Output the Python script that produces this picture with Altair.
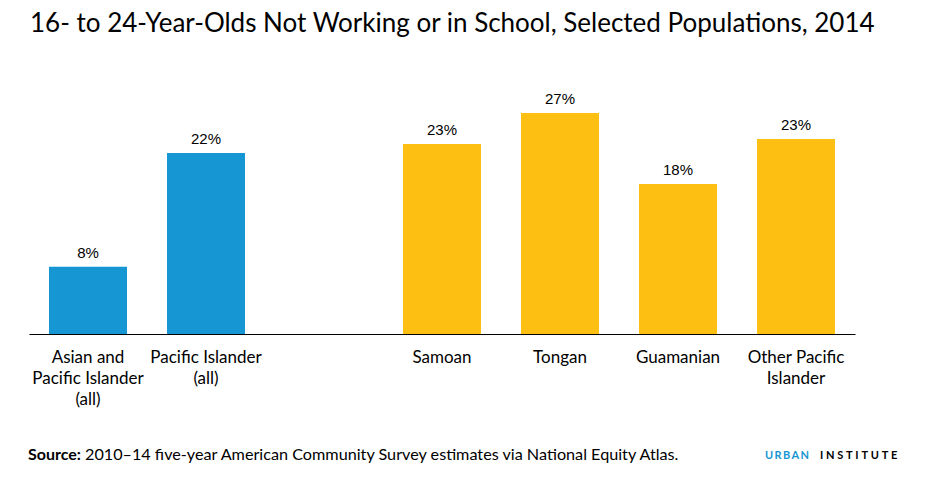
import altair as alt
import pandas as pd

# ---- data ----
categories = ["Asian and|Pacific Islander|(all)", "Pacific Islander|(all)",
              "Samoan", "Tongan", "Guamanian", "Other Pacific|Islander"]
values = [8.08, 21.72, 22.8, 26.52, 18.0, 23.4]
value_labels = ["8%", "22%", "23%", "27%", "18%", "23%"]
groups = ["all", "all", "sub", "sub", "sub", "sub"]
x_domain = categories[:2] + [" "] + categories[2:]

title_text = "16- to 24-Year-Olds Not Working or in School, Selected Populations,  2014"
source_bold = "Source:"
source_rest = "2010\u201314 five-year American Community Survey estimates via National Equity Atlas."
logo_a = "\u2009".join("URBAN")
logo_b = "\u2009\u200a\u200a".join("INSTITUTE")

BLUE = "#1696d2"
YELLOW = "#fdbf11"

df = pd.DataFrame({"cat": categories, "val": values, "lab": value_labels, "grp": groups})

W, H = 826, 250

x = alt.X("cat:N",
          scale=alt.Scale(domain=x_domain, paddingInner=0.339, paddingOuter=0.1695),
          axis=alt.Axis(title=None, labelExpr="split(datum.value, '|')", labelAngle=0,
                        labelFont="Lato", labelFontSize=17, labelColor="#000",
                        labelLineHeight=21, labelPadding=15, ticks=False,
                        domainColor="#000", domainWidth=1, labelBaseline="top",
                        labelLimit=300))
y = alt.Y("val:Q", scale=alt.Scale(domain=[0, 30]), axis=None)

bars = alt.Chart(df).mark_bar().encode(
    x=x, y=y,
    color=alt.Color("grp:N", scale=alt.Scale(domain=["all", "sub"], range=[BLUE, YELLOW]), legend=None),
)

labels = alt.Chart(df).mark_text(font="Liberation Sans", fontSize=15, baseline="alphabetic",
                                 dy=-9, color="#000").encode(x=x, y=y, text="lab:N")

def note(txt, xpos, ypos, **kw):
    return alt.Chart(pd.DataFrame({"t": [txt]})).mark_text(
        align="left", baseline="alphabetic", **kw
    ).encode(x=alt.value(xpos), y=alt.value(ypos), text="t:N")

ttl = note(title_text, 1, -52, font="Lato", fontSize=26, color="#000")
src1 = note(source_bold, -1, 376, font="Lato", fontSize=16, fontWeight="bold", color="#000")
src2 = note(source_rest, 56, 376, font="Lato", fontSize=16.2, color="#000")
logo1 = note(logo_a, 736, 375, font="Lato", fontSize=11, fontWeight="bold", color=BLUE)
logo2 = note(logo_b, 791, 375, font="Lato", fontSize=11, fontWeight="bold", color="#000")

chart = alt.layer(bars, labels, ttl, src1, src2, logo1, logo2).properties(
    width=W, height=H,
    padding={"left": 21, "top": 76, "right": 63, "bottom": 137},
    autosize=alt.AutoSizeParams(type="none"),
    background="white",
).configure_view(stroke=None)

chart.save("out.html", embed_options={"renderer": "svg", "actions": False})
